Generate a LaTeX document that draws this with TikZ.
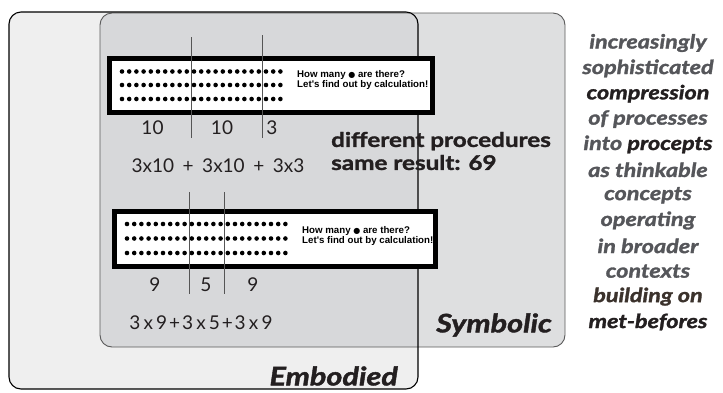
\documentclass[tikz,border=0pt]{standalone}
\usepackage{fontspec}
\setmainfont{Lato}
\newfontfamily\wideb[FakeStretch=1.2, BoldFeatures={FakeBold=1.6}, BoldItalicFeatures={FakeBold=1.6}]{Lato}
\newfontfamily\boxf{Liberation Sans}
\newfontfamily\symf{DejaVu Sans}
\definecolor{embfill}{HTML}{EFEFEF}
\definecolor{symfill}{HTML}{C8C9CC}
\definecolor{symline}{HTML}{5A5A5A}
\definecolor{txtgray}{HTML}{55565A}
\definecolor{txtblack}{HTML}{231F20}
\definecolor{txtbrown}{HTML}{3B322C}
\definecolor{vl}{HTML}{555555}
\begin{document}
\begin{tikzpicture}[x=1pt,y=-1pt,
  embbox/.style={rounded corners=12pt},
  dotbox/.style={draw=black, line width=5pt, fill=white},
  boxtext/.style={anchor=west, align=left, inner sep=0pt, text=black,
    font=\boxf\bfseries\fontsize{9.7}{10.2}\selectfont},
  vline/.style={draw=vl, line width=1pt},
  num/.style={inner sep=0pt, text=txtblack, font=\fontsize{19}{20}\selectfont},
  bigb/.style={inner sep=0pt, text=txtblack, align=left, font=\wideb\bfseries\fontsize{20.2}{23}\selectfont},
  side/.style={inner sep=0pt, text=txtgray, font=\wideb\bfseries\itshape\fontsize{19.5}{20}\selectfont},
  realm/.style={inner sep=0pt, text=txtblack, font=\wideb\bfseries\itshape\fontsize{25.5}{26}\selectfont}
]
\useasboundingbox (0,0) rectangle (723,392);
% Embodied and Symbolic regions
\fill[embfill, embbox] (9,12) rectangle (418,389);
\fill[symfill, fill opacity=0.6, embbox] (100,13) rectangle (565,347);
\draw[symline, line width=0.9pt, embbox] (100,13) rectangle (565,347);
\draw[black, line width=1.1pt, embbox] (9,12) rectangle (418,389);

% first dot box
\draw[dotbox] (109.5,58.5) rectangle (432.5,112.5);
\foreach \r in {71.5,85,99}
  \foreach \i in {0,...,22}
    \fill (122+7.2*\i,\r) circle (2.3);
\node[boxtext] (q1) at (297,80) {How many {\symf\fontsize{8}{10}\selectfont ●} are there?\\Let's find out by calculation!};
\draw[vline] (191,37) -- (191,138);
\draw[vline] (262,35) -- (262,138);
\node[num] (a1) at (152.5,128) {10};
\node[num] (a2) at (222,128) {10};
\node[num] (a3) at (272,128) {3};
\node[num] (f1) at (218,166) {3x10\hspace{0.45em}+\hspace{0.45em}3x10\hspace{0.45em}+\hspace{0.45em}3x3};

\node[bigb, anchor=west] (res) at (331,151) {different procedures\\same result: 69};

% second dot box
\draw[dotbox] (114.8,211.3) rectangle (435.5,266.5);
\foreach \r in {224,238.5,253}
  \foreach \i in {0,...,22}
    \fill (127+7.2*\i,\r) circle (2.3);
\node[boxtext] (q2) at (302,236) {How many {\symf\fontsize{8}{10}\selectfont ●} are there?\\Let's find out by calculation!};
\draw[vline] (189.5,192) -- (189.5,294);
\draw[vline] (224,192) -- (224,294);
\node[num] (b1) at (155,285) {9};
\node[num] (b2) at (206,285) {5};
\node[num] (b3) at (253,285) {9};
\node[num] (f2) at (201,323) {3\,x\,9\hspace{0.1em}+\hspace{0.1em}3\,x\,5\hspace{0.1em}+\hspace{0.1em}3\,x\,9};

\node[realm, anchor=east] (sym) at (552,325) {Symbolic};
\node[realm, anchor=east] (emb) at (398,376) {Embodied};

% right column
\node[side] (t1) at (648,43) {increasingly};
\node[side] (t2) at (648,68.4) {sophisticated};
\node[side, text=txtblack] (t3) at (648,93.7) {compression};
\node[side] (t4) at (648,119.1) {of processes};
\node[side] (t5) at (648,144.4) {into \textcolor{txtblack}{procepts}};
\node[side] (t6) at (648,169.8) {as thinkable};
\node[side] (t7) at (648,195.2) {concepts};
\node[side] (t8) at (648,220.5) {operating};
\node[side] (t9) at (648,245.9) {in broader};
\node[side] (t10) at (648,271.2) {contexts};
\node[side, text=txtbrown] (t11) at (648,296.6) {building on};
\node[side, text=txtblack] (t12) at (648,322) {met-befores};
\end{tikzpicture}
\end{document}
